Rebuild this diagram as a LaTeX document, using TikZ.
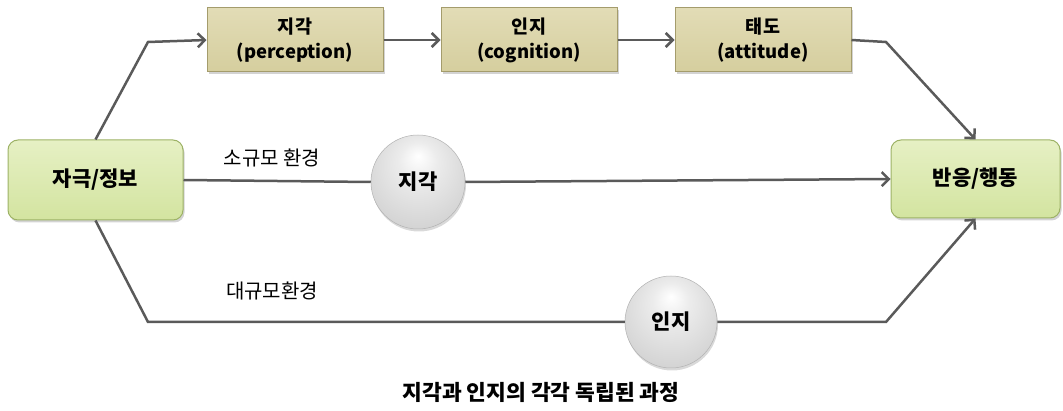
\documentclass[tikz,border=0pt]{standalone}
\usepackage{fontspec}
\setmainfont{Noto Sans CJK KR}
\usetikzlibrary{arrows.meta,shadows,shapes.geometric}
\definecolor{linegray}{HTML}{5A5A5A}
\definecolor{greenfill}{HTML}{D3E4A0}
\definecolor{greentop}{HTML}{E6F0C4}
\definecolor{greenborder}{HTML}{9DB266}
\definecolor{khaki}{HTML}{D5CE9E}
\definecolor{khakitop}{HTML}{E2DCB6}
\definecolor{khakiborder}{HTML}{A49C6C}
\pgfdeclareradialshading{softball}{\pgfpoint{0bp}{14bp}}{%
  color(0bp)=(white); color(10bp)=(gray!15); color(28bp)=(gray!32); color(42bp)=(gray!46); color(50bp)=(gray!68)}
\tikzset{
  gbox/.style={draw=greenborder, line width=1pt, rounded corners=10pt, top color=greentop, bottom color=greenfill,
    minimum width=175pt, minimum height=80pt, font=\bfseries\fontsize{21}{24}\selectfont,
    drop shadow={shadow xshift=1.5pt, shadow yshift=-2.5pt, opacity=0.35}},
  kbox/.style={draw=khakiborder, line width=1pt, top color=khakitop, bottom color=khaki,
    minimum width=176pt, minimum height=64pt, align=center, font=\bfseries\fontsize{18.5}{25}\selectfont,
    drop shadow={shadow xshift=1.5pt, shadow yshift=-2.5pt, opacity=0.35}},
  cnode/.style={circle, shading=softball, draw=gray!60, line width=0.5pt, minimum size=94pt, inner sep=0pt,
    font=\bfseries\fontsize{21}{24}\selectfont,
    drop shadow={shadow xshift=1pt, shadow yshift=-2.5pt, opacity=0.3}},
  conn/.style={draw=linegray, line width=2.5pt},
  arr/.style={conn, -{Straight Barb[length=7pt,width=14pt,line width=2.5pt]}},
  lbl/.style={font=\fontsize{20}{24}\selectfont},
}
\begin{document}
\begin{tikzpicture}[x=1pt,y=-1pt]
\useasboundingbox (0,0) rectangle (1063,411);
\node[gbox] (src) at (95.5,180) {자극/정보};
\node[gbox, minimum width=169pt, minimum height=78pt] (dst) at (975.5,179) {반응/행동};
\node[kbox] (b1) at (295,40) {지각\\(perception)};
\node[kbox] (b2) at (529,40) {인지\\(cognition)};
\node[kbox] (b3) at (763,40) {태도\\(attitude)};
\node[cnode] (c1) at (418,182) {지각};
\node[cnode, minimum size=92pt] (c2) at (671,322) {인지};
\coordinate (t1) at (148,42);
\coordinate (t2) at (886,42);
\coordinate (m1) at (148,322);
\coordinate (m2) at (886,322);
\draw[arr] (src.north) -- (t1) -- (b1.west);
\draw[arr] (b1.east) -- (b2.west);
\draw[arr] (b2.east) -- (b3.west);
\draw[arr] (b3.east) -- (t2) -- (dst.north);
\draw[conn] (src.east) -- (c1.west);
\draw[arr] (c1.east) -- (dst.west);
\draw[conn] (src.south) -- (m1) -- (c2.west);
\draw[arr] (c2.east) -- (m2) -- (dst.south);
\node[lbl] (l1) at (272,158) {소규모 환경};
\node[lbl] (l2) at (272,291) {대규모환경};
\node[font=\bfseries\fontsize{21.5}{24}\selectfont] (cap) at (541,392) {지각과 인지의 각각 독립된 과정};
\end{tikzpicture}
\end{document}
